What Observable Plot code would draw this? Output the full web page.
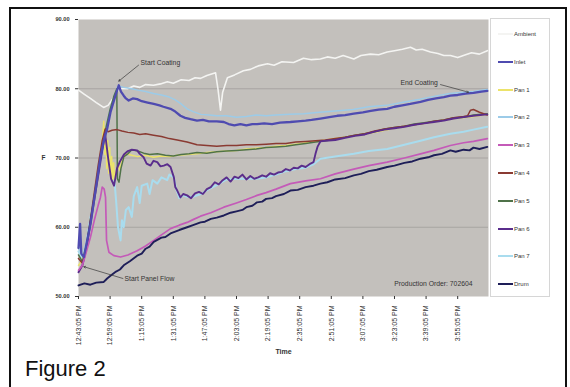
<!DOCTYPE html>
<html><head><meta charset="utf-8">
<script src="https://cdn.jsdelivr.net/npm/d3@7"></script>
<script src="https://cdn.jsdelivr.net/npm/@observablehq/plot@0.6"></script>
<style>
body{margin:0;width:570px;height:387px;overflow:hidden;background:#fff;font-family:Arial,"Liberation Sans",sans-serif;position:relative}
#chart{position:absolute;left:0;top:0}
#frame{position:absolute;left:9px;top:7px;width:558px;height:420px;border:2px solid #111;box-sizing:border-box}
#legend{position:absolute;left:490px;top:18px;width:60px;height:279px;border:1px solid #d6d6d6;background:#fff;box-sizing:border-box}
.item{position:absolute;left:7px;height:8px;font-size:6px;color:#333;display:flex;align-items:center;white-space:nowrap}
.sw{width:15px;height:2px;margin-right:1px}
#fig{position:absolute;left:25px;top:358px;font-size:22px;color:#111;line-height:22px}
</style></head><body>
<div id="chart"></div>
<div id="legend"></div>
<div id="frame"></div>
<div id="fig">Figure 2</div>
<script>
// ---- data (x = minutes from start of log, y = temperature) ----
const seriesNames = ["Ambient","Inlet","Pan 1","Pan 2","Pan 3","Pan 4","Pan 5","Pan 6","Pan 7","Drum"];
const seriesColors = ["#f4f4f2","#4f4bb0","#ece36a","#9ccbe8","#c45ab8","#8a3a32","#4f7249","#5a2d8c","#a9dcee","#1e1e58"];

const ambient = [[0,79.8],[3,79.2],[6,78.6],[9,78.0],[12.7,77.3],[15,77.6],[18,78.8],[20.5,80.0],[24.8,80.0],[28,80.4],[31,80.2],[34,80.6],[38,80.5],[41.5,80.7],[45,81.0],[48,80.8],[52,81.3],[56,81.2],[59,81.6],[61.8,81.5],[65,81.9],[69.4,82.3],[70.6,80.0],[71.9,76.9],[73,79.5],[75.4,81.6],[79,82.0],[83.5,82.6],[87,82.8],[91,83.3],[95.7,83.6],[99,83.4],[103,83.9],[108.9,83.8],[113.9,84.4],[118,84.2],[122.5,84.3],[126,84.6],[130,84.4],[134,84.8],[139.4,84.3],[143,84.8],[147.8,85.0],[152,84.9],[156.3,85.3],[160,85.5],[164,85.7],[168.1,86.0],[171,85.6],[174,85.7],[178.2,85.3],[182,85.1],[185,84.8],[188.3,84.8],[192,84.5],[196,84.9],[199,85.2],[203,85.0],[207,85.5]];

const inlet = [[0,57.0],[0.8,60.5],[1.4,56.2],[2.7,55.7],[4.5,58.2],[6.1,60.5],[8.6,65.3],[11.1,70.1],[12.8,72.5],[14.5,74.2],[16.2,76.6],[18.7,79.0],[20.4,80.5],[21.5,79.6],[22.9,79.0],[24,78.6],[25.4,78.3],[27.5,78.6],[29.7,78.5],[32,78.2],[35,78.0],[38.1,77.8],[41,77.6],[43,77.4],[46.6,77.1],[49,76.7],[51.6,76.1],[54,75.8],[56.7,75.6],[60,75.4],[63,75.5],[66,75.3],[70,75.3],[73.6,75.2],[76,74.9],[78.9,74.7],[82,74.9],[85,74.7],[88,74.9],[90.4,74.9],[94,75.0],[98,74.9],[102,75.1],[107.3,75.2],[111,75.3],[115,75.4],[118,75.5],[122.5,75.7],[127,75.9],[131,76.1],[135,76.2],[139.4,76.4],[144,76.6],[148,76.8],[152,77.0],[156.3,77.1],[160,77.4],[164,77.6],[168,77.8],[173.2,78.1],[177,78.4],[181,78.6],[185,78.8],[188.3,79.0],[192,79.1],[196,79.3],[200,79.4],[204,79.6],[207,79.7]];

const pan1 = [[0,54.5],[2,55.3],[4,57.5],[6,60.5],[8,64.0],[10,68.0],[12,72.0],[12.8,75.3],[13.3,70.5],[13.8,73.5],[14.3,68.5],[14.8,72.5],[15.3,67.8],[15.8,71.5],[16.3,67.2],[16.8,70.2],[17.3,66.9],[17.8,69.3],[18.3,66.8],[19,68.0],[20,69.2],[21,68.2],[22,69.6],[24,70.6],[27,70.4],[30,70.2],[34,70.4],[38,70.1],[42,70.3],[46,70.2],[50,70.4],[55,70.5],[60,70.6],[65,70.8],[70,70.9],[75,71.0],[80,71.1],[85,71.3],[90,71.4],[95,71.5],[100,71.7],[105,71.8],[110,72.0],[115,72.2],[120,72.4],[125,72.6],[130,72.8],[135,73.0],[140,73.2],[150,73.7],[160,74.3],[170,74.8],[180,75.2],[190,75.7],[200,76.0],[207,76.3]];

const pan2 = [[0,57.0],[2,56.0],[4,58.0],[6,61.5],[8,64.5],[10,68.0],[12,71.5],[14,74.5],[16,77.0],[18,79.0],[20,80.4],[23,80.2],[27,80.0],[30,79.8],[34,79.6],[38,79.3],[42,79.1],[46,78.8],[49,78.4],[52,77.8],[55,77.1],[58,76.7],[62,76.3],[66,76.2],[70,76.1],[75,76.1],[80,75.9],[85,76.0],[90,76.2],[95,76.1],[100,76.2],[107,76.3],[114,76.4],[122,76.6],[130,76.8],[139,77.0],[147,77.4],[156,77.6],[165,78.1],[173,78.5],[180,78.9],[188,79.3],[195,79.5],[200,79.6],[207,79.9]];

const pan3 = [[0,53.8],[2,54.5],[4,56.5],[6,58.5],[8,61.0],[10,63.2],[11.1,64.3],[12,65.8],[13,65.5],[13.7,64.3],[14.2,58.1],[15.4,56.4],[17.9,55.9],[21.3,55.7],[25,56.0],[29.7,56.6],[34,57.3],[38.1,58.1],[42,58.9],[46.6,59.8],[51,60.3],[55,60.7],[58,61.1],[61.8,61.6],[67,62.1],[73.6,62.9],[80,63.5],[85,64.0],[90.4,64.6],[95,65.0],[100,65.5],[107.3,66.3],[115,66.7],[122.5,67.0],[130,67.7],[139.4,68.4],[147,68.9],[156.3,69.4],[165,70.0],[173.2,70.6],[180,71.1],[188.3,71.8],[195,72.2],[200,72.4],[207,72.8]];

const pan4 = [[0,55.5],[2,54.8],[4,57.0],[6,61.0],[8,65.0],[10,69.0],[12,72.5],[13.5,74.2],[15,73.8],[17,74.0],[19.5,74.1],[22,73.9],[25,73.7],[28,73.6],[31,73.4],[34,73.5],[38,73.3],[42,73.1],[46,72.8],[50,72.6],[55,72.3],[60,71.9],[65,71.8],[70,71.7],[75,71.8],[80,71.8],[85,71.9],[90,71.9],[95,72.0],[100,72.1],[105,72.1],[110,72.3],[115,72.4],[120,72.5],[125,72.6],[130,72.8],[135,73.0],[140,73.3],[145,73.5],[150,73.9],[155,74.2],[160,74.4],[165,74.6],[170,74.8],[175,75.0],[180,75.3],[185,75.5],[190,75.8],[195,76.0],[197,76.1],[198.5,76.9],[200,77.0],[203,76.6],[207,76.2]];

const pan5 = [[0,56.0],[2,55.0],[4,57.5],[6,61.0],[8,64.5],[10,68.0],[12,71.5],[14,74.5],[16,77.0],[18,79.0],[19.4,80.0],[19.7,67.0],[20.5,66.5],[21.5,68.5],[23,70.2],[25,70.6],[27,71.2],[30,71.0],[33,70.7],[36,70.5],[40,70.6],[44,70.4],[48,70.3],[52,70.5],[56,70.6],[60,70.8],[65,70.7],[70,70.9],[75,71.0],[80,71.1],[85,71.2],[90,71.3],[95,71.5],[100,71.6],[105,71.7],[110,71.9],[115,72.1],[120,72.3],[125,72.5],[130,72.7],[135,73.0],[140,73.3],[145,73.5],[150,73.8],[155,74.2],[160,74.4],[165,74.6],[170,74.9],[175,75.1],[180,75.3],[185,75.5],[190,75.8],[195,75.9],[200,76.2],[207,76.4]];

const pan6 = [[0,53.5],[2,54.5],[4,57.0],[6,60.5],[8,64.0],[10,67.5],[12,71.0],[13.5,73.5],[15,70.0],[16.5,67.0],[18,66.0],[19.5,68.5],[21,69.5],[23,70.5],[25,71.0],[27,71.2],[29.7,71.1],[31,70.6],[33,70.1],[34.5,69.2],[36.5,68.9],[38,69.6],[39.9,69.4],[41.5,68.8],[43.2,68.9],[45,69.1],[46.6,68.7],[48.3,67.2],[49,65.8],[50,65.3],[51.6,64.3],[53,64.8],[55,64.6],[57,64.2],[59,64.9],[61,65.1],[63,64.8],[65,65.5],[67,65.8],[69,66.5],[71,66.2],[73,66.8],[75,67.2],[77,66.6],[79,67.3],[81,67.1],[83,67.6],[85,66.9],[87,67.4],[89,67.0],[91,67.2],[93,67.5],[95,67.3],[97,67.8],[99,67.6],[101,67.9],[103,68.0],[105,68.4],[107,68.2],[109,68.6],[111,68.5],[113,68.9],[115,68.7],[117.5,69.2],[119,69.4],[120,70.6],[121,71.6],[122.5,72.4],[125,72.5],[130,72.6],[135,72.9],[140,73.2],[145,73.4],[150,73.8],[155,74.1],[160,74.3],[165,74.5],[170,74.8],[175,75.0],[180,75.2],[185,75.4],[190,75.7],[195,75.9],[200,76.1],[207,76.3]];

const pan7 = [[0,56.5],[2,55.5],[4,57.5],[6,61.0],[8,64.5],[10,68.0],[12,71.0],[14,72.5],[16,70.0],[17.9,67.7],[19,64.0],[20,60.0],[21.3,58.1],[22,61.0],[22.9,60.0],[24,62.5],[25.4,62.9],[27,61.5],[28,64.5],[29.7,65.8],[31,63.5],[32,66.0],[34.8,66.3],[36,64.8],[37.5,66.8],[39.9,66.3],[42,67.2],[44.9,66.8],[46,67.6],[48.3,67.2],[49.5,65.5],[51,64.2],[53,64.6],[55,64.4],[58,64.4],[62,64.8],[66,65.5],[70,66.1],[75,66.9],[80,67.0],[85,67.0],[90,67.0],[95,67.2],[100,67.6],[105,68.1],[110,68.4],[115,68.6],[119,69.1],[122.5,69.9],[130,70.2],[139.4,70.6],[147,71.0],[156.3,71.3],[165,71.9],[173.2,72.5],[180,73.0],[188.3,73.5],[195,73.8],[200,74.1],[207,74.5]];

const drum = [[0,51.6],[3,51.9],[6,51.7],[9,52.0],[12.8,52.1],[14.5,52.6],[16.2,53.0],[19,53.6],[21,53.9],[22.9,54.5],[26,55.1],[29.7,55.9],[32,56.2],[34,56.9],[36,57.2],[38.1,57.9],[42,58.5],[44,58.6],[46.6,59.1],[51,59.6],[55,60.0],[58,60.3],[61.8,60.7],[64,60.8],[67,61.2],[70,61.4],[73.6,61.7],[77,62.1],[80,62.3],[83,62.5],[85,62.9],[88,63.1],[90.4,63.6],[93,63.7],[95,64.1],[98,64.2],[100,64.5],[104,64.8],[107.3,65.3],[111,65.4],[115,65.8],[119,66.0],[122.5,66.3],[126,66.5],[130,66.9],[135,67.1],[139.4,67.5],[143,67.7],[147,68.1],[151,68.3],[156.3,68.7],[160,68.9],[165,69.3],[169,69.5],[173.2,69.9],[177,70.1],[180,70.4],[184,70.6],[188.3,71.1],[191,70.9],[195,71.2],[198,71.1],[200,71.5],[203,71.3],[207,71.6]];

const seriesData = [ambient, inlet, pan1, pan2, pan3, pan4, pan5, pan6, pan7, drum];
const drawOrder = ["Ambient","Pan 2","Pan 7","Pan 1","Pan 5","Pan 4","Pan 6","Pan 3","Drum","Inlet"];

const tickMinutes = [0,16,32,48,64,80,96,112,128,144,160,176,192];
const tickLabels = ["12:43:05 PM","12:59:05 PM","1:15:05 PM","1:31:05 PM","1:47:05 PM","2:03:05 PM","2:19:05 PM","2:35:05 PM","2:51:05 PM","3:07:05 PM","3:23:05 PM","3:39:05 PM","3:55:05 PM"];
const yTicks = [50,60,70,80,90];
const gridValues = [60,70,80];

const annLabels = ["Start Coating","End Coating","Start Panel Flow"];
const annTextX = [31.4,163,23.3];
const annTextY = [83.8,80.9,52.5];
const annFromX = [30.4,183.3,22.5];
const annFromY = [83.4,80.6,52.6];
const annToX = [20.4,197.5,2.7];
const annToY = [81.1,79.5,54.3];
const orderLabel = "Production Order: 702604";

// ---- build ----
const colorOf = new Map(seriesNames.map((n,i)=>[n, seriesColors[i]]));
const dataOf = new Map(seriesNames.map((n,i)=>[n, seriesData[i]]));
const widthOf = {"Inlet":2.3,"Drum":1.9,"Pan 6":1.9,"Pan 3":1.7,"Pan 7":2.0,"Ambient":1.6};
const tickMap = new Map(tickMinutes.map((m,i)=>[m, tickLabels[i]]));
const ann = annLabels.map((l,i)=>({label:l, x:annTextX[i], y:annTextY[i], x1:annFromX[i], y1:annFromY[i], x2:annToX[i], y2:annToY[i]}));

const lineMarks = drawOrder.map(n => Plot.line(dataOf.get(n), {
  x: d => d[0], y: d => d[1], stroke: colorOf.get(n), strokeWidth: widthOf[n] || 1.5, strokeLinejoin: "round"
}));

const chart = Plot.plot({
  width: 570, height: 387,
  marginLeft: 78, marginRight: 82, marginTop: 19, marginBottom: 91,
  style: {fontFamily: "Arial, 'Liberation Sans', sans-serif", background: "transparent", color: "#333"},
  x: {domain: [0, 207.6]},
  y: {domain: [50, 90]},
  marks: [
    Plot.frame({fill: "#c3c0bc", stroke: null}),
    Plot.ruleY(gridValues, {stroke: "#a5a29f", strokeWidth: 0.9}),
    ...lineMarks,
    Plot.arrow(ann, {x1: "x1", y1: "y1", x2: "x2", y2: "y2", stroke: "#3a3a3a", strokeWidth: 0.7, headLength: 4}),
    Plot.text(ann, {x: "x", y: "y", text: "label", textAnchor: "start", fontSize: 6.8, fill: "#333"}),
    Plot.text([orderLabel], {x: 199.5, y: 51.9, textAnchor: "end", fontSize: 6.8, fill: "#333"}),
    Plot.axisX({ticks: tickMinutes, tickFormat: d => tickMap.get(d), tickRotate: -90, tickSize: 3, fontSize: 7, fill: "#333", label: null}),
    Plot.axisY({ticks: yTicks, tickFormat: d3.format(".2f"), tickSize: 3, fontSize: 5.6, fontWeight: "bold", fill: "#333", label: null}),
    Plot.text(["Time"], {frameAnchor: "bottom", dy: 57, fontSize: 7, fontWeight: "bold", fill: "#333"}),
    Plot.text(["F"], {frameAnchor: "left", dx: -37, fontSize: 6.5, fontWeight: "bold", fill: "#333"})
  ]
});
document.getElementById("chart").appendChild(chart);

// legend (HTML)
const legend = document.getElementById("legend");
seriesNames.forEach((n,i) => {
  const it = document.createElement("div");
  it.className = "item";
  it.style.top = (33 + i*27.8 - 18 - 4) + "px";
  const sw = document.createElement("span");
  sw.className = "sw"; sw.style.background = seriesColors[i];
  const tx = document.createElement("span");
  tx.textContent = n;
  it.appendChild(sw); it.appendChild(tx);
  legend.appendChild(it);
});
</script>
</body></html>
